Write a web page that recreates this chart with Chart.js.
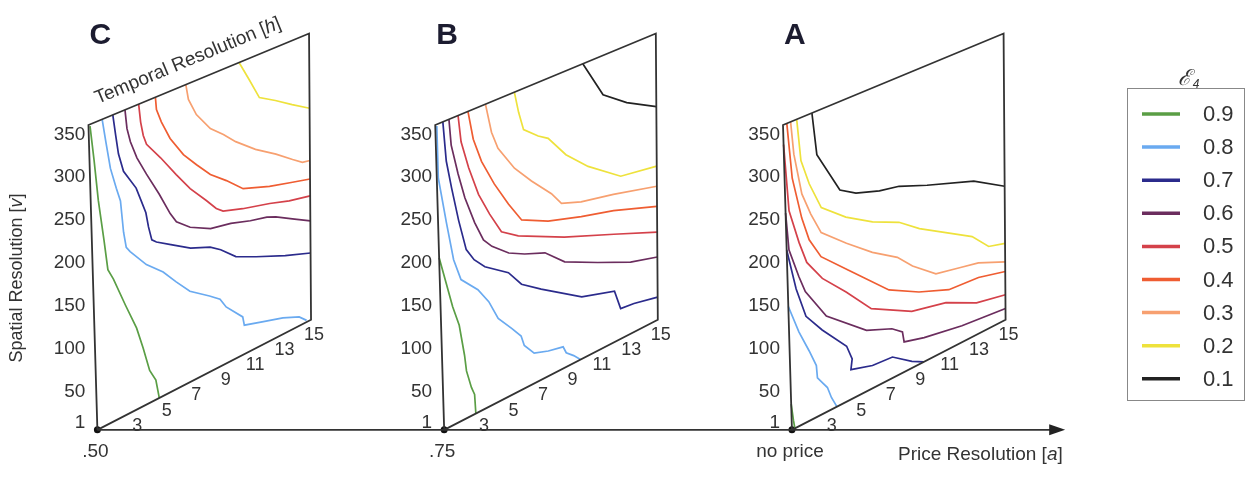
<!DOCTYPE html>
<html>
<head>
<meta charset="utf-8">
<style>
  html, body { margin: 0; padding: 0; background: #fff; }
  #wrap { width: 1255px; height: 485px; }
</style>
</head>
<body>
<div id="wrap"><canvas id="contourChart" width="1255" height="485"></canvas></div>
<script src="https://cdn.jsdelivr.net/npm/chart.js@4.4.0/dist/chart.umd.min.js"></script>
<script>
// --- DATA ---
const levels = [0.9, 0.8, 0.7, 0.6, 0.5, 0.4, 0.3, 0.2, 0.1];
const panelLetters = ["C", "B", "A"];
const priceLabels = [".50", ".75", "no price"];
const spatialTicks = [1, 50, 100, 150, 200, 250, 300, 350];
const temporalTicks = [3, 5, 7, 9, 11, 13, 15];

// contour lines as [a, v] points, one list per level (0.9 first, 0.1 last)
const contoursC = [
  [[0.6, 359], [0.8, 317], [1.0, 269], [1.3, 220], [1.5, 184], [1.85, 170], [2.6, 133], [3.3, 100], [3.7, 73], [4.1, 43], [4.5, 28], [4.7, 5]],
  [[1.4, 361], [1.6, 333], [1.85, 300], [2.2, 274], [2.45, 257], [2.6, 219], [2.75, 200], [3.0, 193], [4.05, 169], [5.15, 151], [6.0, 132], [6.9, 113], [8.2, 96], [8.9, 86], [9.3, 73], [10.4, 51], [10.5, 40], [11.7, 33], [13.1, 25], [14.2, 16], [14.7, 7]],
  [[2.1, 361], [2.25, 336], [2.4, 313], [2.7, 290], [3.5, 264], [3.8, 247], [4.1, 230], [4.25, 212], [4.45, 195], [4.75, 190], [5.7, 179], [7.0, 164], [8.3, 154], [9.0, 145], [10.0, 128], [11.35, 116], [13.3, 100], [15, 88]],
  [[2.9, 361], [3.0, 338], [3.2, 321], [3.6, 299], [4.2, 275], [5.0, 245], [5.7, 216], [6.1, 203], [7.0, 189], [8.35, 176], [9.7, 171], [11.0, 163], [12.1, 158], [12.7, 153], [13.8, 141], [15, 128]],
  [[3.8, 361], [3.9, 339], [4.05, 322], [4.25, 310], [5.15, 287], [6.15, 259], [7.05, 235], [8.1, 212], [8.75, 197], [9.2, 190], [10.5, 182], [12.3, 173], [13.6, 165], [15, 159]],
  [[4.9, 361], [4.95, 346], [5.25, 329], [5.8, 305], [6.65, 279], [7.5, 260], [8.4, 241], [9.45, 225], [10.55, 206], [12.3, 194], [13.65, 187], [15, 180]],
  [[6.9, 361], [7.05, 342], [7.55, 320], [8.45, 296], [9.3, 282], [10.1, 267], [11.4, 247], [12.75, 230], [13.85, 214], [14.5, 205], [15, 203]],
  [[10.4, 361], [11.05, 335], [11.7, 308], [12.75, 296], [13.85, 282], [15, 268]],
  []
];
const contoursB = [
  [[0.5, 206], [0.9, 174], [1.3, 142], [1.7, 117], [2.0, 79], [2.1, 60], [2.4, 38], [2.6, 28], [2.65, 5]],
  [[0.6, 359], [0.6, 298], [1.05, 242], [1.45, 196], [1.9, 169], [3.0, 148], [3.7, 128], [4.3, 103], [5.2, 83], [5.8, 69], [6.0, 56], [6.65, 41], [7.6, 35], [8.6, 31], [8.8, 22], [9.3, 14], [9.75, 5]],
  [[1.0, 361], [1.15, 314], [1.45, 280], [1.85, 239], [2.3, 201], [2.8, 185], [3.5, 171], [5.05, 151], [5.9, 130], [7.2, 113], [9.9, 80], [12.1, 67], [12.5, 42], [13.4, 40], [15, 33]],
  [[1.4, 361], [1.5, 330], [1.9, 293], [2.3, 262], [2.9, 228], [3.45, 203], [4.0, 191], [5.1, 174], [6.15, 164], [7.5, 154], [8.8, 132], [11.0, 112], [13.2, 93], [15, 83]],
  [[2.0, 361], [2.15, 329], [2.6, 295], [3.2, 259], [3.9, 230], [4.65, 203], [5.75, 189], [8.8, 162], [12.1, 137], [15, 114]],
  [[2.65, 361], [2.95, 326], [3.45, 296], [4.25, 263], [5.15, 232], [6.0, 206], [7.75, 190], [9.95, 177], [12.1, 166], [15, 146]],
  [[3.8, 361], [4.15, 325], [4.55, 303], [5.6, 271], [6.7, 247], [8.0, 221], [8.65, 204], [9.95, 195], [12.1, 186], [15, 171]],
  [[5.7, 361], [5.95, 335], [6.25, 312], [7.2, 297], [7.85, 289], [9.0, 260], [10.45, 234], [12.6, 204], [15, 196]],
  [[10.2, 361], [11.5, 313], [13.05, 291], [15, 270]]
];
const contoursA = [
  [[0.5, 35], [0.62, 15], [0.7, 5]],
  [[0.5, 149], [1.15, 114], [1.8, 86], [2.25, 65], [2.3, 50], [2.95, 33], [3.2, 19], [3.55, 5]],
  [[0.5, 215], [1.05, 165], [1.65, 128], [2.7, 103], [4.3, 70], [4.65, 52], [4.55, 40], [6.0, 32], [7.35, 30], [8.65, 13], [9.45, 5]],
  [[0.5, 258], [0.65, 214], [1.25, 178], [1.65, 157], [3.0, 117], [5.65, 77], [7.35, 64], [8.05, 54], [8.15, 41], [9.5, 34], [12.05, 25], [15, 19]],
  [[0.5, 338], [0.73, 259], [1.33, 217], [1.8, 190], [2.8, 163], [4.35, 134], [6.0, 100], [8.7, 73], [11.0, 63], [13.05, 44], [15, 36]],
  [[0.75, 361], [1.0, 295], [1.55, 244], [2.0, 215], [2.75, 189], [4.55, 158], [7.2, 112], [9.2, 92], [11.2, 77], [13.2, 74], [15, 65]],
  [[1.0, 361], [1.15, 322], [1.6, 272], [2.15, 244], [2.8, 217], [4.45, 191], [6.15, 166], [7.8, 146], [8.8, 127], [10.35, 104], [12.0, 97], [13.2, 92], [15, 77]],
  [[1.4, 361], [1.6, 311], [2.1, 280], [2.85, 246], [4.45, 222], [6.2, 202], [7.95, 187], [9.3, 168], [11.05, 148], [12.8, 128], [13.9, 106], [15, 100]],
  [[2.4, 361], [2.65, 310], [4.1, 257], [5.15, 245], [6.7, 235], [8.0, 230], [9.85, 216], [12.95, 195], [15, 171]]
];
const panelContours = [contoursC, contoursB, contoursA];

// --- STYLE / LAYOUT ---
const levelColors = ["#5a9e45", "#6aaaf0", "#2b2b8c", "#6b2d5e", "#d4414a", "#ef5d32", "#f7a070", "#eee23c", "#222222"];
const frameColor = "#333333";
const FONT = "'Liberation Sans', Arial, sans-serif";

// each panel is a skewed box: a runs along the bottom edge, v up the side
const A_MIN = 0.5, A_MAX = 15, V_MIN = 5, V_MAX = 361;
const panelOrigins = [94, 443, 793];
const BASE_Y = 433;
const EDGE_A = [215, -112];
const EDGE_V = [-9, -310];
const TWIST = [7, 19];
const ARROW_TIP = 1068;

function project(p, a, v) {
  const s = (a - A_MIN) / (A_MAX - A_MIN);
  const t = (v - V_MIN) / (V_MAX - V_MIN);
  return {
    x: panelOrigins[p] + s * EDGE_A[0] + t * EDGE_V[0] + s * t * TWIST[0],
    y: BASE_Y + s * EDGE_A[1] + t * EDGE_V[1] + s * t * TWIST[1],
  };
}

const datasets = [];

// frames
panelLetters.forEach((_, p) => {
  datasets.push({
    data: [
      project(p, A_MIN, V_MIN), project(p, A_MAX, V_MIN),
      project(p, A_MAX, V_MAX), project(p, A_MIN, V_MAX),
      project(p, A_MIN, V_MIN),
    ],
    showLine: true, borderColor: frameColor, borderWidth: 1.8,
    pointRadius: 0, fill: false,
  });
});

// price axis
datasets.push({
  data: [project(0, A_MIN, V_MIN), { x: ARROW_TIP - 8, y: BASE_Y }],
  showLine: true, borderColor: frameColor, borderWidth: 1.8, pointRadius: 0,
});

// contour lines
panelContours.forEach((lines, p) => {
  lines.forEach((pts, i) => {
    if (!pts.length) return;
    datasets.push({
      data: pts.map(([a, v]) => project(p, a, v)),
      showLine: true, borderColor: levelColors[i], borderWidth: 1.7,
      pointRadius: 0, fill: false, tension: 0,
    });
  });
});

// origin dots
datasets.push({
  data: panelLetters.map((_, p) => project(p, A_MIN, V_MIN)),
  showLine: false, pointRadius: 3.5, pointBackgroundColor: "#111", pointBorderWidth: 0,
});

function drawMixed(ctx, parts, x, y, size) {
  // parts: [text, italic]
  let total = 0;
  const widths = parts.map(([txt, it]) => {
    ctx.font = (it ? "italic " : "") + size + "px " + FONT;
    const w = ctx.measureText(txt).width;
    total += w;
    return w;
  });
  let cx = x - total / 2;
  parts.forEach(([txt, it], k) => {
    ctx.font = (it ? "italic " : "") + size + "px " + FONT;
    ctx.textAlign = "left";
    ctx.fillText(txt, cx, y);
    cx += widths[k];
  });
}

const textPlugin = {
  id: "panelText",
  afterDatasetsDraw(chart) {
    const ctx = chart.ctx;
    const xs = chart.scales.x, ys = chart.scales.y;
    const pix = (pt) => [xs.getPixelForValue(pt.x), ys.getPixelForValue(pt.y)];
    ctx.save();

    // arrow head
    const [tx, ty] = pix({ x: ARROW_TIP, y: BASE_Y });
    ctx.fillStyle = "#222";
    ctx.beginPath();
    ctx.moveTo(tx, ty);
    ctx.lineTo(tx - 16, ty - 5.5);
    ctx.lineTo(tx - 16, ty + 5.5);
    ctx.closePath();
    ctx.fill();

    panelLetters.forEach((letter, p) => {
      const [ox, oy] = pix(project(p, A_MIN, V_MIN));
      // spatial ticks
      ctx.fillStyle = "#333";
      ctx.font = "19px " + FONT;
      ctx.textAlign = "right";
      ctx.textBaseline = "middle";
      spatialTicks.forEach((v) => {
        const [, y] = pix(project(p, A_MIN, v));
        ctx.fillText(String(v), ox - 12, Math.min(y, BASE_Y - 10));
      });
      // temporal ticks
      ctx.font = "18px " + FONT;
      ctx.textAlign = "center";
      temporalTicks.forEach((a) => {
        const [x, y] = pix(project(p, a, V_MIN));
        ctx.fillText(String(a), x + 3, y + 15);
      });
      // price labels
      ctx.font = "19px " + FONT;
      ctx.fillText(priceLabels[p], ox - 2, oy + 22);
      // panel letter
      ctx.fillStyle = "#1c1c30";
      ctx.font = "bold 30px " + FONT;
      ctx.fillText(letter, ox + 3, 36);
    });

    ctx.fillStyle = "#333";
    ctx.textBaseline = "middle";
    // price axis title
    ctx.font = "19px " + FONT;
    const priceW = ctx.measureText("Price Resolution [a]").width;
    drawMixed(ctx, [["Price Resolution [", false], ["a", true], ["]", false]], 898 + priceW / 2, 455, 19);

    // spatial axis title
    ctx.save();
    ctx.translate(17, 278);
    ctx.rotate(-Math.PI / 2);
    drawMixed(ctx, [["Spatial Resolution [", false], ["v", true], ["]", false]], 0, 0, 18);
    ctx.restore();

    // temporal axis title along the top edge of the first panel
    const [lx, ly] = pix(project(0, A_MIN, V_MAX));
    const [rx, ry] = pix(project(0, A_MAX, V_MAX));
    ctx.save();
    ctx.translate(188, 61);
    ctx.rotate(Math.atan2(ry - ly, rx - lx));
    drawMixed(ctx, [["Temporal Resolution [", false], ["h", true], ["]", false]], 0, 0, 19);
    ctx.restore();

    // legend
    ctx.strokeStyle = "#888";
    ctx.lineWidth = 1;
    ctx.strokeRect(1127.5, 88.5, 117, 312);
    ctx.fillStyle = "#333";
    ctx.font = "italic 22px 'DejaVu Serif', serif";
    ctx.textAlign = "center";
    ctx.fillText("\u2130", 1184, 79);
    ctx.font = "italic 12px " + FONT;
    ctx.fillText("4", 1196, 85);
    levels.forEach((lv, i) => {
      const y = 114 + i * 33.1;
      ctx.strokeStyle = levelColors[i];
      ctx.lineWidth = 3.5;
      ctx.beginPath();
      ctx.moveTo(1142, y);
      ctx.lineTo(1180, y);
      ctx.stroke();
      ctx.fillStyle = "#333";
      ctx.font = "22px " + FONT;
      ctx.textAlign = "left";
      ctx.fillText(lv.toFixed(1), 1203, y + 1);
    });
    ctx.restore();
  },
};

new Chart(document.getElementById("contourChart"), {
  type: "scatter",
  data: { datasets },
  options: {
    responsive: false,
    animation: false,
    devicePixelRatio: 1,
    layout: { padding: 0 },
    scales: {
      x: { type: "linear", min: 0, max: 1255, display: false },
      y: { type: "linear", min: 0, max: 485, reverse: true, display: false },
    },
    plugins: { legend: { display: false }, tooltip: { enabled: false } },
  },
  plugins: [textPlugin],
});
</script>
</body>
</html>
